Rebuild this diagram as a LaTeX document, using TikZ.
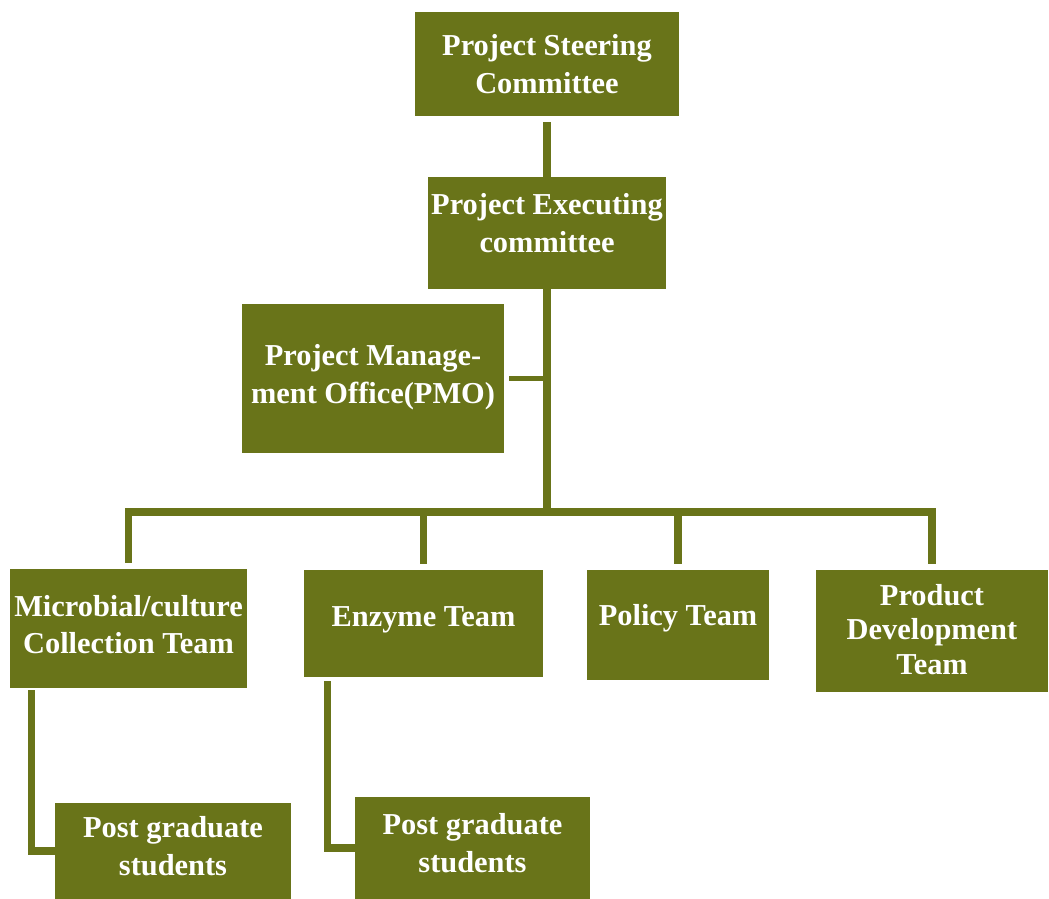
\documentclass[tikz,border=0pt]{standalone}
\usepackage{fontspec}
\setmainfont{Liberation Serif}
\usetikzlibrary{positioning}
\definecolor{orggreen}{RGB}{105,116,25}
\begin{document}
\begin{tikzpicture}[x=0.02cm,y=-0.02cm,
  unit/.style={fill=orggreen, text=white, align=center, inner sep=0pt,
    font=\fontsize{17.3}{21.5}\selectfont\bfseries},
  link/.style={draw=orggreen, line width=4pt}]
\useasboundingbox (0,0) rectangle (1049,899);

% committees and office
\node[unit, minimum width=5.30cm, minimum height=2.08cm] (steer) at (547,64) {Project Steering\\Committee};
\node[unit, minimum width=4.76cm, minimum height=2.24cm, text depth=11pt] (exec) at (547,233) {Project Executing\\committee};
\node[unit, minimum width=5.24cm, minimum height=2.98cm, text depth=5.5pt] (pmo) at (373,378.5) {Project Manage-\\ment Office(PMO)};

% teams
\node[unit, minimum width=4.74cm, minimum height=2.38cm, text depth=4.5pt] (micro) at (128.5,628.5) {Microbial/culture\\Collection Team};
\node[unit, minimum width=4.78cm, minimum height=2.14cm, text depth=8pt] (enzyme) at (423.5,623.5) {Enzyme Team};
\node[unit, minimum width=3.64cm, minimum height=2.20cm, text depth=11pt] (policy) at (678,625) {Policy Team};
\node[unit, minimum width=4.64cm, minimum height=2.44cm, text depth=2pt,
  font=\fontsize{17.3}{19.8}\selectfont\bfseries] (product) at (932,631) {Product\\Development\\Team};

% students
\node[unit, minimum width=4.72cm, minimum height=1.92cm, text depth=5.6pt] (pgmicro) at (173,851) {Post graduate\\students};
\node[unit, minimum width=4.70cm, minimum height=2.04cm, text depth=5.6pt] (pgenzyme) at (472.5,848) {Post graduate\\students};

\coordinate (bus) at (547,512);

\draw[link] ([yshift=-3.4pt]steer.south) -- (exec.north);
\draw[link] (exec.south) -- (bus);
\draw[link, line width=2.8pt] (pmo.east -| exec.south) -- ([xshift=2.8pt]pmo.east);
\draw[link] ([yshift=3.4pt]micro.north) |- (bus) -| ([yshift=3.4pt]product.north);
\foreach \t in {enzyme,policy}
  \draw[link] (\t.north |- bus) -- ([yshift=3.4pt]\t.north);

\draw[link] ([shift={(12.5pt,-1pt)}]micro.south west) |- (pgmicro.west);
\draw[link] ([shift={(13.6pt,-2.3pt)}]enzyme.south west) |- (pgenzyme.west);
\end{tikzpicture}
\end{document}
